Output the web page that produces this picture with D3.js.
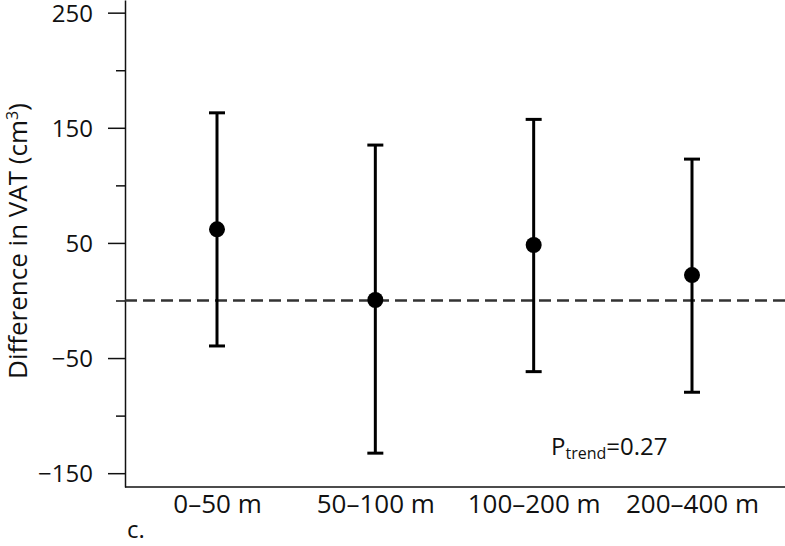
<!DOCTYPE html>
<head>
  <meta charset="utf-8" />
  <script src="https://d3js.org/d3.v7.min.js"></script>
  <style>
    body { margin: 0; background: #fff; }
    text { font-family: "Open Sans", sans-serif; fill: #111; }
    .axis path, .axis line { stroke: #111; stroke-width: 1.5px; }
    .bar { stroke: #000; stroke-width: 3px; }
  </style>
</head>
<body>
  <svg width="785" height="546"></svg>
  <script>
    // data
    var categories = ["0\u201350 m", "50\u2013100 m", "100\u2013200 m", "200\u2013400 m"];
    var estimates = [61.8, 0.4, 48.2, 22.1];
    var lower = [-39.5, -132.6, -61.8, -79.7];
    var upper = [163, 135, 157.3, 122.8];
    var majorTicks = [250, 150, 50, -50, -150];
    var minorTicks = [200, 100, 0, -100];

    var svg = d3.select("svg"),
      margin = {top: 0, right: 0, bottom: 59, left: 125},
      width = +svg.attr("width") - margin.left - margin.right,
      height = +svg.attr("height") - margin.top - margin.bottom;

    var g = svg.append("g")
      .attr("transform", "translate(" + margin.left + "," + margin.top + ")");

    var y = d3.scaleLinear().domain([-162, 261]).range([height, 0]);
    var x = d3.scalePoint().domain(categories).range([92, 567]);

    var rows = categories.map(function(c, i) {
      return {cat: c, est: estimates[i], lo: lower[i], hi: upper[i]};
    });

    // minor ticks
    g.append("g")
      .attr("class", "axis")
      .call(d3.axisLeft(y).tickValues(minorTicks).tickSize(9).tickSizeOuter(0).tickFormat(""))
      .select(".domain").remove();

    // major ticks + axis line
    var yAx = g.append("g")
      .attr("class", "axis")
      .call(d3.axisLeft(y).tickValues(majorTicks).tickSize(17).tickSizeOuter(0).tickPadding(15));
    yAx.selectAll("text").style("font-size", "24px").attr("dy", "0.36em");

    // x axis
    g.append("line")
      .attr("x1", 0).attr("x2", width)
      .attr("y1", height).attr("y2", height)
      .style("stroke", "#111").style("stroke-width", "1.5px");

    var xAx = g.append("g")
      .attr("class", "axis")
      .attr("transform", "translate(0," + height + ")")
      .call(d3.axisBottom(x).tickSize(0).tickPadding(8));
    xAx.select(".domain").remove();
    xAx.selectAll("text").style("font-size", "26px").attr("dy", "0.71em");

    // reference line at zero
    g.append("line")
      .attr("x1", 0).attr("x2", width)
      .attr("y1", y(0)).attr("y2", y(0))
      .style("stroke", "#333")
      .style("stroke-width", "2.5px")
      .style("stroke-dasharray", "12,6");

    // error bars
    var bars = g.selectAll(".pt")
      .data(rows)
      .enter().append("g")
      .attr("class", "pt");

    bars.append("line")
      .attr("class", "bar")
      .attr("x1", function(d) { return x(d.cat); })
      .attr("x2", function(d) { return x(d.cat); })
      .attr("y1", function(d) { return y(d.lo); })
      .attr("y2", function(d) { return y(d.hi); });

    bars.append("line")
      .attr("class", "bar")
      .attr("x1", function(d) { return x(d.cat) - 8; })
      .attr("x2", function(d) { return x(d.cat) + 8; })
      .attr("y1", function(d) { return y(d.hi); })
      .attr("y2", function(d) { return y(d.hi); });

    bars.append("line")
      .attr("class", "bar")
      .attr("x1", function(d) { return x(d.cat) - 8; })
      .attr("x2", function(d) { return x(d.cat) + 8; })
      .attr("y1", function(d) { return y(d.lo); })
      .attr("y2", function(d) { return y(d.lo); });

    bars.append("circle")
      .attr("cx", function(d) { return x(d.cat); })
      .attr("cy", function(d) { return y(d.est); })
      .attr("r", 8)
      .style("fill", "#000");

    // y label
    var yl = svg.append("text")
      .attr("transform", "translate(27,241) rotate(-90)")
      .attr("text-anchor", "middle")
      .style("font-size", "26px");
    yl.append("tspan").text("Difference in VAT (cm");
    yl.append("tspan").attr("dy", "-0.55em").style("font-size", "16px").text("3");
    yl.append("tspan").attr("dy", "0.33em").text(")");

    // p trend
    var pt = svg.append("text")
      .attr("x", 551)
      .attr("y", 455)
      .style("font-size", "24px");
    pt.append("tspan").text("P");
    pt.append("tspan").attr("dy", "4").style("font-size", "16px").text("trend");
    pt.append("tspan").attr("dy", "-4").text("=0.27");

    // panel letter
    svg.append("text")
      .attr("x", 127)
      .attr("y", 538)
      .style("font-size", "24px")
      .text("c.");
  </script>
</body>
</html>
